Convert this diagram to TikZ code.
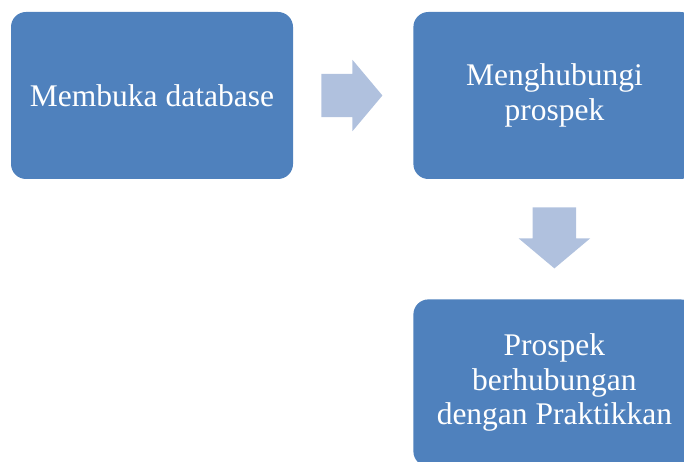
\documentclass[tikz,border=0pt]{standalone}
\usepackage{fontspec}
\setmainfont{Liberation Serif}
\usetikzlibrary{shapes.arrows,positioning,calc}

\definecolor{boxblue}{RGB}{79,129,189}
\definecolor{arrowblue}{RGB}{176,193,222}

\begin{document}
\begin{tikzpicture}[x=1pt,y=-1pt,
	stepbox/.style={rectangle,rounded corners=15pt,fill=boxblue,draw=none,
		minimum width=282pt,minimum height=167pt,inner sep=0pt,
		text=white,align=center,font=\fontsize{31.5}{34.5}\selectfont},
	blockarrow/.style={single arrow,fill=arrowblue,draw=none,anchor=tail,
		inner xsep=0pt,inner ysep=21.5pt,text height=0pt,text depth=0pt,
		minimum height=61pt,single arrow head extend=14pt,
		single arrow tip angle=100}]
	\clip (0,0) rectangle (684,462);

	\node[stepbox] (open) at (152,95.5) {Membuka database};
	\node[stepbox,right=120pt of open] (contact) {Menghubungi\\prospek};
	\node[stepbox,below=120pt of contact] (linked) {Prospek\\berhubungan\\dengan Praktikkan};

	% block arrows start 28pt away from the box they leave
	\node[blockarrow] (toright) at ($(open.east)+(28,0)$) {};
	\node[blockarrow,rotate=-90] (todown) at ($(contact.south)+(0,28)$) {};
\end{tikzpicture}
\end{document}
